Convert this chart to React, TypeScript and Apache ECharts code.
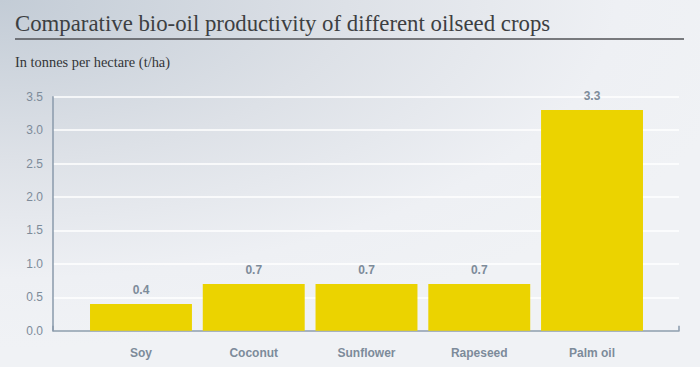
import React, { useEffect, useRef } from "react";
import * as echarts from "echarts";

const categories = ["Soy", "Coconut", "Sunflower", "Rapeseed", "Palm oil"];
const values = [0.4, 0.7, 0.7, 0.7, 3.3];
const yTicks = [0, 0.5, 1.0, 1.5, 2.0, 2.5, 3.0, 3.5];

const TITLE = "Comparative bio-oil productivity of different oilseed crops";
const SUBTITLE = "In tonnes per hectare (t/ha)";

export default function App() {
  const ref = useRef<HTMLDivElement>(null);
  useEffect(() => {
    document.body.style.margin = "0";
    const chart = echarts.init(ref.current!, null, { renderer: "svg" });
    const labelColor = "#7d8b9a";
    const yMin = yTicks[0];
    const yMax = yTicks[yTicks.length - 1];
    chart.setOption({
      animation: false,
      backgroundColor: "transparent",
      title: [
        {
          text: TITLE,
          left: 15,
          top: 12,
          padding: 0,
          textStyle: {
            fontFamily: "Liberation Serif",
            fontWeight: "normal",
            fontSize: 22.8,
            color: "#3d3f42",
          },
        },
        {
          text: SUBTITLE,
          left: 15,
          top: 55,
          padding: 0,
          textStyle: {
            fontFamily: "Liberation Serif",
            fontWeight: "normal",
            fontSize: 14.4,
            color: "#333538",
          },
        },
      ],
      graphic: [
        {
          type: "line",
          shape: { x1: 15, y1: 39, x2: 684, y2: 39 },
          style: { stroke: "#505256", lineWidth: 1.5 },
        },
      ],
      grid: [
        { left: 53, right: 21, top: 96.7, bottom: 36.3 },
        { left: 84.6, right: 51.6, top: 96.7, bottom: 36.3 },
      ],
      xAxis: [
        {
          gridIndex: 0,
          type: "value",
          min: 0,
          max: 1,
          interval: 1,
          axisLine: { show: true, lineStyle: { color: "#8a9aab", width: 1.5 } },
          axisTick: { show: true, inside: true, length: 5, lineStyle: { color: "#8a9aab", width: 1.5 } },
          axisLabel: { show: false },
          splitLine: { show: false },
        },
        {
          gridIndex: 1,
          type: "category",
          data: categories,
          axisLine: { show: false },
          axisTick: { show: false },
          axisLabel: {
            color: labelColor,
            fontFamily: "Liberation Sans",
            fontWeight: "bold",
            fontSize: 12,
            margin: 16,
          },
        },
      ],
      yAxis: [
        {
          gridIndex: 0,
          type: "value",
          min: yMin,
          max: yMax,
          interval: 0.5,
          axisLine: { show: true, lineStyle: { color: "#8a9aab", width: 1.5 } },
          axisTick: { show: false },
          axisLabel: {
            color: labelColor,
            fontFamily: "Liberation Sans",
            fontSize: 12,
            margin: 10,
            formatter: (v: number) => v.toFixed(1),
          },
          splitLine: { show: true, lineStyle: { color: "#ffffff", width: 1.5 } },
        },
        {
          gridIndex: 1,
          type: "value",
          min: yMin,
          max: yMax,
          interval: 0.5,
          show: false,
          splitLine: { show: false },
        },
      ],
      series: [
        {
          type: "bar",
          xAxisIndex: 1,
          yAxisIndex: 1,
          data: values,
          barCategoryGap: "9.6%",
          itemStyle: { color: "#ebd300" },
          label: {
            show: true,
            position: "top",
            distance: 8,
            color: labelColor,
            fontFamily: "Liberation Sans",
            fontWeight: "bold",
            fontSize: 12,
            formatter: (p: any) => p.value.toFixed(1),
          },
        },
      ],
    });
    return () => chart.dispose();
  }, []);
  return (
    <div
      ref={ref}
      style={{
        width: 700,
        height: 367,
        background:
          "radial-gradient(ellipse 110% 95% at 0% 0%, #c3ccd6 0%, #dde1e7 45%, #eef0f4 80%, #f0f2f5 100%)",
      }}
    />
  );
}
